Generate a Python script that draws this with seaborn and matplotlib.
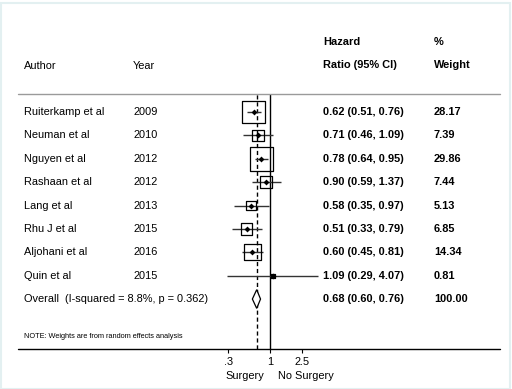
import matplotlib
matplotlib.use("Agg")
import matplotlib.pyplot as plt
import matplotlib.transforms as mtransforms
from matplotlib.patches import Rectangle
import seaborn as sns
import numpy as np

# study level data
authors = ["Ruiterkamp et al", "Neuman et al", "Nguyen et al", "Rashaan et al",
           "Lang et al", "Rhu J et al", "Aljohani et al", "Quin et al"]
years = [2009, 2010, 2012, 2012, 2013, 2015, 2016, 2015]
hr = [0.62, 0.71, 0.78, 0.90, 0.58, 0.51, 0.60, 1.09]
ci_low = [0.51, 0.46, 0.64, 0.59, 0.35, 0.33, 0.45, 0.29]
ci_high = [0.76, 1.09, 0.95, 1.37, 0.97, 0.79, 0.81, 4.07]
weights = [28.17, 7.39, 29.86, 7.44, 5.13, 6.85, 14.34, 0.81]

# pooled estimate
overall_hr = 0.68
overall_low = 0.60
overall_high = 0.76
overall_label = "Overall  (I-squared = 8.8%, p = 0.362)"

tick_vals = [0.3, 1, 2.5]
tick_labels = [".3", "1", "2.5"]

W, H = 512, 389
sns.set_theme(style="white")
plt.rcParams["font.family"] = ["Liberation Sans", "DejaVu Sans"]
plt.rcParams["text.color"] = "black"
plt.rcParams["xtick.color"] = "black"
plt.rcParams["xtick.labelcolor"] = "black"
FS = 7.9

fig = plt.figure(figsize=(W / 100, H / 100), dpi=100)
fig.patch.set_facecolor("white")
fig.add_artist(Rectangle((0.5 / W, 0.5 / H), 1 - 3 / W, 1 - 3 / H, transform=fig.transFigure,
                         fill=False, edgecolor="#e3f0f1", lw=1.5))

# forest panel, log scale, 1 -> x=270px, ~34.5 px per log unit
px_left, px_right = 200, 340
lnlo = (px_left - 270) / 34.5
lnhi = (px_right - 270) / 34.5
ax = fig.add_axes([px_left / W, (H - 349) / H, (px_right - px_left) / W, 255 / H])
ax.set_xscale("log")
ax.set_xlim(np.exp(lnlo), np.exp(lnhi))
row_gap = 23.4
ax.set_ylim(8 + 50 / row_gap, -18 / row_gap)
for s in ax.spines.values():
    s.set_visible(False)
ax.patch.set_alpha(0)

rows = np.arange(len(authors))

# reference lines
ax.axvline(1, color="black", lw=1)
ax.axvline(overall_hr, color="black", lw=1, ls=(0, (3, 2)))

# confidence intervals
ax.hlines(rows, ci_low, ci_high, color="#333333", lw=1)

# weight boxes (area ~ weight)
ax.scatter(hr, rows, s=np.array(weights) * 9.6, marker="s", facecolors="none",
           edgecolors="black", linewidths=0.9, zorder=3)
# point estimates
sns.scatterplot(x=hr, y=rows, ax=ax, color="black", marker="D", s=9, linewidth=0, zorder=4)

# pooled diamond
ax.fill([overall_low, overall_hr, overall_high, overall_hr],
        [8, 8 - 0.4, 8, 8 + 0.4], facecolor="white", edgecolor="black", lw=0.9, zorder=3)

ax.set_xticks(tick_vals)
ax.set_xticklabels(tick_labels, fontsize=FS)
ax.xaxis.set_minor_locator(matplotlib.ticker.NullLocator())
ax.tick_params(axis="x", direction="out", length=3, width=0.8, pad=2.5, bottom=True, colors="black")
ax.set_yticks([])

# horizontal rules across the whole table
tr_rule = mtransforms.blended_transform_factory(fig.transFigure, ax.transAxes)
ax.plot([18 / W, 500 / W], [1, 1], transform=tr_rule, color="#9a9a9a", lw=1, clip_on=False)
ax.plot([18 / W, 500 / W], [0, 0], transform=tr_rule, color="black", lw=1, clip_on=False)

# table text
tr = mtransforms.blended_transform_factory(fig.transFigure, ax.transData)
x_author, x_year, x_hr, x_wt = 24 / W, 133 / W, 323 / W, 434 / W
for i in rows:
    ax.text(x_author, i, authors[i], transform=tr, fontsize=FS, va="center", ha="left")
    ax.text(x_year, i, str(years[i]), transform=tr, fontsize=FS, va="center", ha="left")
    ax.text(x_hr, i, f"{hr[i]:.2f} ({ci_low[i]:.2f}, {ci_high[i]:.2f})", transform=tr,
            fontsize=FS, va="center", ha="left", fontweight="bold")
    ax.text(x_wt, i, f"{weights[i]:.2f}", transform=tr, fontsize=FS, va="center",
            ha="left", fontweight="bold")

ax.text(x_author, 8, overall_label, transform=tr, fontsize=FS, va="center", ha="left")
ax.text(x_hr, 8, f"{overall_hr:.2f} ({overall_low:.2f}, {overall_high:.2f})", transform=tr,
        fontsize=FS, va="center", ha="left", fontweight="bold")
ax.text(x_wt, 8, "100.00", transform=tr, fontsize=FS, va="center", ha="left", fontweight="bold")

# headers
def ftext(xp, yp, s, **kw):
    fig.text(xp / W, 1 - yp / H, s, fontsize=FS, va="center", ha="left", **kw)

ftext(24, 66, "Author")
ftext(133, 66, "Year")
ftext(323, 42, "Hazard", fontweight="bold")
ftext(323, 65, "Ratio (95% CI)", fontweight="bold")
ftext(434, 42, "%", fontweight="bold")
ftext(434, 65, "Weight", fontweight="bold")

fig.text(24 / W, 1 - 336 / H, "NOTE: Weights are from random effects analysis",
         fontsize=5.3, va="center", ha="left")

# axis direction labels
fig.text(264 / W, 1 - 376 / H, "Surgery", fontsize=FS, va="center", ha="right")
fig.text(278 / W, 1 - 376 / H, "No Surgery", fontsize=FS, va="center", ha="left")

fig.savefig("out.png", dpi=100, facecolor="white")
